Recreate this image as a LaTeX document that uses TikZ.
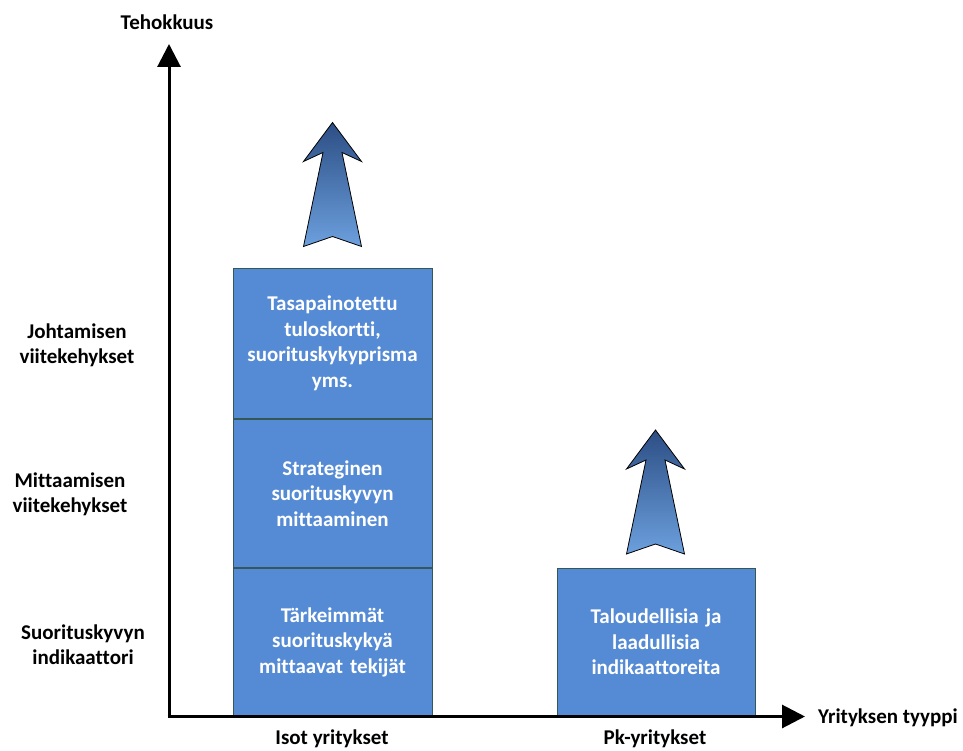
\documentclass[tikz,border=0pt]{standalone}
\usepackage{fontspec}
\setmainfont{Carlito}[Ligatures=NoCommon]
\usetikzlibrary{arrows.meta,positioning}
\definecolor{boxblue}{RGB}{85,139,213}
\definecolor{boxline}{RGB}{52,88,88}
\definecolor{arrowtop}{RGB}{44,78,132}
\definecolor{arrowbot}{RGB}{108,160,222}
\tikzset{
  lbl/.style={font=\fontsize{21}{25.5}\selectfont\bfseries,align=center,inner sep=0pt},
  levelbox/.style={lbl,draw=boxline,line width=0.8pt,fill=boxblue,text=white,
    minimum width=199pt,minimum height=148pt,text width=190pt},
  axis/.style={line width=3pt,-{Triangle[length=23pt,width=23pt]}},
  arrowfill/.style={draw=black,line width=0.8pt,top color=arrowtop,bottom color=arrowbot},
  risearrow/.pic={
    \path[arrowfill] (0,0)--(-29,39)--(-9.5,30)--(-29,124)--(0,114)--(29,124)--(9.5,30)--(29,39)--cycle;
  }
}
\begin{document}
\begin{tikzpicture}[x=1pt,y=-1pt]
\useasboundingbox (0,0) rectangle (963,751);
\coordinate (O) at (169,716.5);
\coordinate (ytop) at (169,44);
\coordinate (xend) at (805,716.5);
% columns
\node[levelbox,anchor=south] (tekijat) at (332.5,716.5) {Tärkeimmät\\suorituskykyä\\mittaavat tekijät};
\node[levelbox,above=0pt of tekijat] (mittaaminen) {Strateginen\\suorituskyvyn\\mittaaminen};
\node[levelbox,above=0pt of mittaaminen,minimum height=150pt] (tuloskortti) {Tasapainotettu\\tuloskortti,\\suorituskykyprisma\\yms.};
\node[levelbox,anchor=south,minimum width=198pt] (pk) at (656,716.5) {Taloudellisia ja\\laadullisia\\indikaattoreita};
% arrows up
\pic at (332.5,122.5) {risearrow};
\pic at (655.5,430) {risearrow};
% axes
\draw[axis] (O)--(ytop);
\draw[axis] ([xshift=-1.5pt]O)--(xend);
% labels
\node[lbl] (tehokkuus) at (167,22) {Tehokkuus};
\node[lbl,anchor=west] (tyyppi) at (818,718) {Yrityksen tyyppi};
\node[lbl] (isot) at (332,739) {Isot yritykset};
\node[lbl] (pkyr) at (655,739) {Pk-yritykset};
\node[lbl] (johtaminen) at (77,345.5) {Johtamisen\\viitekehykset};
\node[lbl] (mittaamis) at (70,494.5) {Mittaamisen\\viitekehykset};
\node[lbl] (indikaattori) at (83,644.5) {Suorituskyvyn\\indikaattori};
\end{tikzpicture}
\end{document}
